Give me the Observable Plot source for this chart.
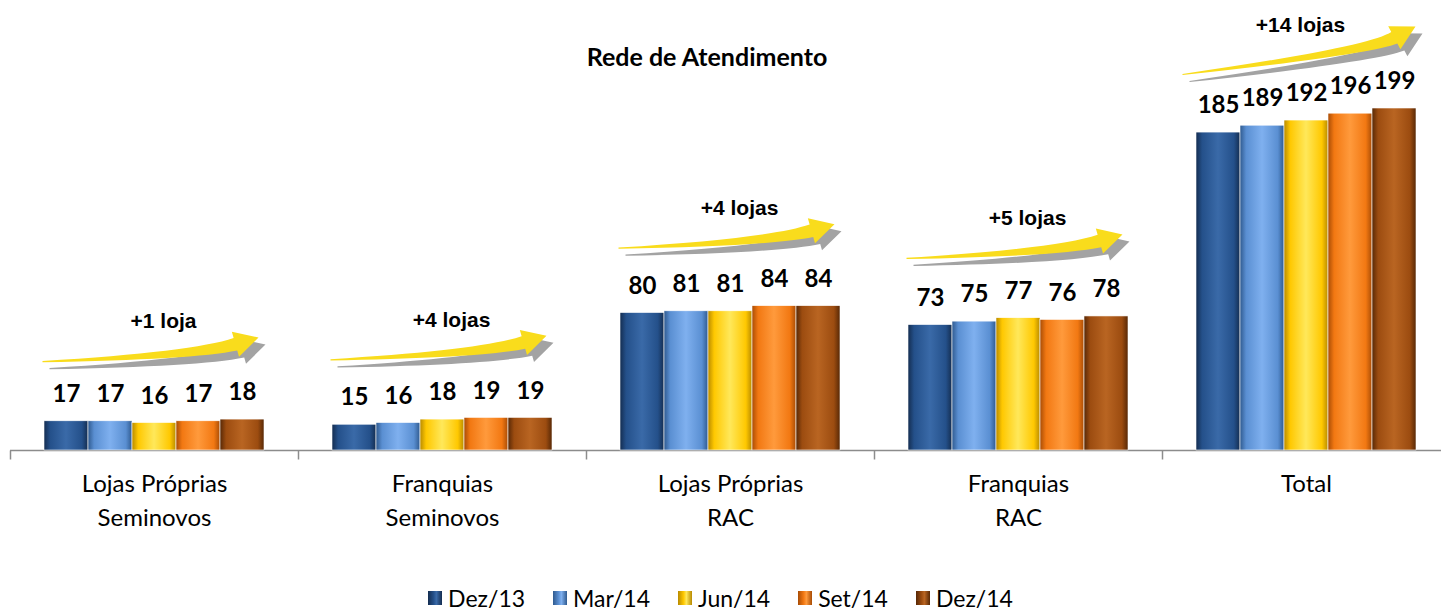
<!DOCTYPE html>
<html>
<head>
<meta charset="utf-8">
<script src="https://cdn.jsdelivr.net/npm/d3@7"></script>
<script src="https://cdn.jsdelivr.net/npm/@observablehq/plot@0.6"></script>
<style>
  html, body { margin: 0; padding: 0; background: #fff; }
  #wrap { position: relative; width: 1441px; height: 613px; overflow: hidden; font-family: Lato, "Liberation Sans", sans-serif; }
  #title { position: absolute; left: 0; width: 1414px; top: 40px; line-height: 32px; text-align: center; font-weight: bold; font-size: 25px; color: #000; }
  #legend { position: absolute; left: 0; width: 1441px; top: 585px; display: flex; justify-content: center; gap: 28px; font-size: 23px; color: #000; line-height: 26px; }
  #legend .item { display: flex; align-items: center; gap: 6px; }
  #legend .sw { width: 14px; height: 14px; }
  #chart { position: absolute; left: 0; top: 0; }
</style>
</head>
<body>
<svg width="0" height="0" style="position:absolute">
  <defs id="defs"></defs>
</svg>
<div id="wrap">
  <div id="chart"></div>
  <div id="title">Rede de Atendimento</div>
  <div id="legend"></div>
</div>
<script>
// ---- data ----
const categories = ["Lojas Próprias\nSeminovos", "Franquias\nSeminovos", "Lojas Próprias\nRAC", "Franquias\nRAC", "Total"];
const series = ["Dez/13", "Mar/14", "Jun/14", "Set/14", "Dez/14"];
const dez13 = [17, 15, 80, 73, 185];
const mar14 = [17, 16, 81, 75, 189];
const jun14 = [16, 18, 81, 77, 192];
const set14 = [17, 19, 84, 76, 196];
const dez14 = [18, 19, 84, 78, 199];
const growth = ["+1 loja", "+4 lojas", "+4 lojas", "+5 lojas", "+14 lojas"];
const baseColors = ["#24508a", "#5a8fd2", "#ffc800", "#f27812", "#9c4c10"];
const darkColors = ["#142d50", "#2f5a8f", "#b88a00", "#a84c05", "#572806"];
const lightColors = ["#3a6aa8", "#7fb0ef", "#ffe85a", "#ff9a3c", "#b96522"];

// ---- gradients for bevelled bars ----
const defs = document.getElementById("defs");
baseColors.forEach((c, i) => {
  defs.innerHTML += `<linearGradient id="g${i}" x1="0" x2="1" y1="0" y2="0">
    <stop offset="0" stop-color="${darkColors[i]}"/>
    <stop offset="0.14" stop-color="${c}"/>
    <stop offset="0.5" stop-color="${lightColors[i]}"/>
    <stop offset="0.86" stop-color="${c}"/>
    <stop offset="1" stop-color="${darkColors[i]}"/>
  </linearGradient>`;
});
const fills = baseColors.map((c, i) => `url(#g${i})`);

const valuesBySeries = [dez13, mar14, jun14, set14, dez14];
const rows = categories.flatMap((cat, i) => series.map((ser, j) => ({cat, ser, value: valuesBySeries[j][i]})));
const ann = categories.map((cat, i) => ({cat, label: growth[i], first: dez13[i], last: dez14[i]}));
const annGroups = ann.slice(0, 4);
const annTotal = ann.slice(4);

// ---- decorative shapes (pixel styles, relative to the anchor point) ----
const tickSymbol = {draw(ctx) { ctx.moveTo(0, 0); ctx.lineTo(0, 9); }};

function arrowSymbol(tail, tip, thetaDeg, theta0Deg, h = 24, w = 13, t1 = 6.5, t0 = 1.2) {
  const [tx, ty] = tail, [px, py] = tip;
  const th = thetaDeg * Math.PI / 180, th0 = theta0Deg * Math.PI / 180;
  const ux = Math.cos(th), uy = Math.sin(th);
  const nx = -uy, ny = ux;
  const bx = px - h * ux, by = py - h * uy;
  const cx0 = Math.cos(th0), cy0 = Math.sin(th0);
  const det = cx0 * uy - ux * cy0;
  const dx = bx - tx, dy = by - ty;
  const a = (dx * uy - ux * dy) / det;
  const Cx = tx + a * cx0, Cy = ty + a * cy0;
  return {
    draw(ctx) {
      ctx.moveTo(tx, ty - t0 / 2);
      ctx.quadraticCurveTo(Cx, Cy - t1 * 0.7, bx - t1 * nx, by - t1 * ny);
      ctx.lineTo(bx - w * nx, by - w * ny);
      ctx.lineTo(px, py);
      ctx.lineTo(bx + w * nx, by + w * ny);
      ctx.lineTo(bx + t1 * nx, by + t1 * ny);
      ctx.quadraticCurveTo(Cx, Cy + t1 * 0.5, tx, ty + t0 / 2);
      ctx.closePath();
    }
  };
}
const arrowStd = arrowSymbol([-112, -58], [104, -82], -16, -2);
const arrowTot = arrowSymbol([-124, -34], [109, -82], -28, -7);

const font = "Lato, 'Liberation Sans', sans-serif";
const annFont = "'Liberation Sans', Arial, sans-serif";

const chart = Plot.plot({
  width: 1441,
  height: 580,
  marginLeft: 10,
  marginRight: 0,
  marginTop: 0,
  marginBottom: 0,
  style: {fontFamily: font, background: "transparent", overflow: "visible"},
  fx: {domain: categories, range: [10, 1450], padding: 0, axis: null},
  x: {domain: series, paddingInner: 0, paddingOuter: 0.76, axis: null},
  y: {domain: [0, 199], range: [450, 108], axis: null},
  color: {domain: series, range: fills},
  marks: [
    Plot.ruleY([0], {stroke: "#8c8c8c", strokeWidth: 1.5}),
    Plot.dot(categories, {fx: d => d, y: () => 0, frameAnchor: "left", symbol: tickSymbol, stroke: "#8c8c8c", strokeWidth: 1.5, fill: "none"}),
    Plot.barY(rows, {fx: "cat", x: "ser", y: "value", fill: "ser", stroke: "#ffffff", strokeWidth: 0.6}),
    Plot.text(rows, {fx: "cat", x: "ser", y: "value", text: d => String(d.value), dy: -27, fontSize: 24, fontWeight: "bold", fill: "#000"}),
    // growth arrows: shadow then yellow
    Plot.dot(annGroups, {fx: "cat", y: "last", symbol: arrowStd, fill: "#a3a3a3", stroke: "none", dx: 7, dy: 7}),
    Plot.dot(annTotal, {fx: "cat", y: "last", symbol: arrowTot, fill: "#a3a3a3", stroke: "none", dx: 7, dy: 7}),
    Plot.dot(annGroups, {fx: "cat", y: "last", symbol: arrowStd, fill: "#f9dc1c", stroke: "none"}),
    Plot.dot(annTotal, {fx: "cat", y: "last", symbol: arrowTot, fill: "#f9dc1c", stroke: "none"}),
    Plot.text(annGroups, {fx: "cat", y: "last", text: "label", dy: -98, dx: 9, fontSize: 21, fontWeight: "bold", fontFamily: annFont, fill: "#000"}),
    Plot.text(annTotal, {fx: "cat", y: "last", text: "label", dy: -83, dx: -6, fontSize: 21, fontWeight: "bold", fontFamily: annFont, fill: "#000"}),
    Plot.text(categories, {fx: d => d, y: () => 0, text: d => d, lineAnchor: "top", dy: 17, fontSize: 24, lineHeight: 1.42, fill: "#000"})
  ]
});
document.getElementById("chart").appendChild(chart);

// ---- legend ----
const legend = document.getElementById("legend");
series.forEach((s, i) => {
  const item = document.createElement("div");
  item.className = "item";
  item.innerHTML = `<span class="sw" style="background: linear-gradient(90deg, ${darkColors[i]}, ${baseColors[i]} 40%, ${lightColors[i]} 60%, ${darkColors[i]})"></span><span>${s}</span>`;
  legend.appendChild(item);
});
</script>
</body>
</html>
